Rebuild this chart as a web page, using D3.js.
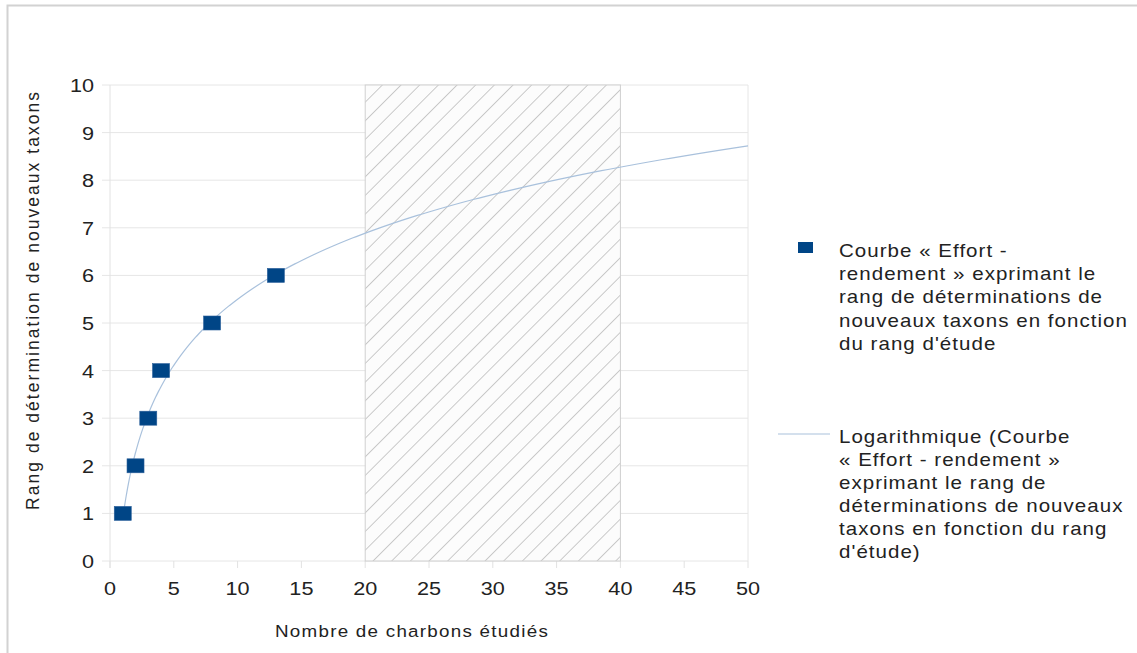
<!DOCTYPE html>
<html><head><meta charset="utf-8">
<script src="https://cdn.jsdelivr.net/npm/d3@7"></script>
<style>
html,body{margin:0;padding:0;background:#fff;}
svg{display:block;font-family:"Liberation Sans",Arial,sans-serif;}
</style></head>
<body>
<svg id="chart" width="1137" height="653"></svg>
<script>
// ---- data ----
const studyCounts = [1, 2, 3, 4, 8, 13];      // Nombre de charbons étudiés
const taxonRanks  = [1, 2, 3, 4, 5, 6];       // Rang de détermination
const xTickValues = [0, 5, 10, 15, 20, 25, 30, 35, 40, 45, 50];
const yTickValues = [0, 1, 2, 3, 4, 5, 6, 7, 8, 9, 10];
const hatchRange  = [20, 40];
const trendRange  = [1, 50];
const xTitle = "Nombre de charbons étudiés";
const yTitle = "Rang de détermination de nouveaux taxons";
const legend1 = ["Courbe « Effort -", "rendement » exprimant le", "rang de déterminations de", "nouveaux taxons en fonction", "du rang d'étude"];
const legend2 = ["Logarithmique (Courbe", "« Effort - rendement »", "exprimant le rang de", "déterminations de nouveaux", "taxons en fonction du rang", "d'étude)"];

// ---- layout ----
const svg = d3.select("#chart");
const x = d3.scaleLinear().domain([0, 50]).range([110, 748]);
const y = d3.scaleLinear().domain([0, 10]).range([561, 85]);
const SX = 1.14;

// frame
svg.append("path").attr("d", "M7.5,660 V5.5 H1145").attr("fill", "none").attr("stroke", "#d2d2d2").attr("stroke-width", 2);

// hatch pattern
const defs = svg.append("defs");
const pat = defs.append("pattern").attr("id", "hatch").attr("patternUnits", "userSpaceOnUse")
  .attr("width", 13.2).attr("height", 13.2).attr("patternTransform", "rotate(45)");
pat.append("rect").attr("width", 13.2).attr("height", 13.2).attr("fill", "#fcfcfc");
pat.append("line").attr("x1", 0).attr("y1", 0).attr("x2", 0).attr("y2", 13.2).attr("stroke", "#a9a9a9").attr("stroke-width", 1.2);

// gridlines + ticks
const gy = svg.append("g");
yTickValues.forEach(v => {
  gy.append("line").attr("x1", 102).attr("x2", x(50)).attr("y1", y(v)).attr("y2", y(v))
    .attr("stroke", "#e6e6e6").attr("stroke-width", 1);
});
xTickValues.forEach(v => {
  gy.append("line").attr("x1", x(v)).attr("x2", x(v)).attr("y1", y(0)).attr("y2", y(0) + 7)
    .attr("stroke", "#e2e2e2").attr("stroke-width", 1);
});
// axis + right border
gy.append("line").attr("x1", x(0)).attr("x2", x(0)).attr("y1", y(10)).attr("y2", y(0) + 7).attr("stroke", "#e2e2e2");
gy.append("line").attr("x1", x(50)).attr("x2", x(50)).attr("y1", y(10)).attr("y2", y(0)).attr("stroke", "#e6e6e6");

// hatched region
svg.append("rect").attr("x", x(hatchRange[0])).attr("y", y(10))
  .attr("width", x(hatchRange[1]) - x(hatchRange[0])).attr("height", y(0) - y(10))
  .attr("fill", "url(#hatch)").attr("stroke", "#cfcfcf").attr("stroke-width", 1);

// logarithmic trend fit (least squares on ln x)
const lx = studyCounts.map(Math.log);
const mx = d3.mean(lx), my = d3.mean(taxonRanks);
const a = d3.sum(lx, (v, i) => (v - mx) * (taxonRanks[i] - my)) / d3.sum(lx, v => (v - mx) ** 2);
const b = my - a * mx;
const trendPts = d3.range(0, 301).map(i => {
  const xv = trendRange[0] * Math.pow(trendRange[1] / trendRange[0], i / 300);
  return [xv, a * Math.log(xv) + b];
});
svg.append("path").datum(trendPts)
  .attr("d", d3.line().x(d => x(d[0])).y(d => y(d[1])))
  .attr("fill", "none").attr("stroke", "#a9c1dc").attr("stroke-width", 1.2);

// markers
svg.append("g").selectAll("rect").data(studyCounts).join("rect")
  .attr("x", d => x(d) - 8.5).attr("y", (d, i) => y(taxonRanks[i]) - 7)
  .attr("width", 17).attr("height", 14).attr("fill", "#004586").attr("stroke", "#2a5f9a").attr("stroke-width", 0.6);

// text helper
function txt(px, py, s, size, anchor, color) {
  return svg.append("text").attr("transform", `translate(${px},${py}) scale(${SX},1)`)
    .attr("font-size", size).attr("text-anchor", anchor || "start").attr("fill", color || "#222").text(s);
}

// tick labels
yTickValues.forEach(v => txt(94, y(v) + 7, String(v), 19, "end"));
xTickValues.forEach(v => txt(x(v), 595, String(v), 19, "middle"));

// axis titles
txt(412, 637, xTitle, 16.5, "middle").attr("letter-spacing", 1.1);
svg.append("text").attr("transform", "translate(39,301) rotate(-90)")
  .attr("font-size", 17.5).attr("text-anchor", "middle").attr("fill", "#222")
  .attr("textLength", 418).attr("lengthAdjust", "spacing").text(yTitle);

// legend
svg.append("rect").attr("x", 798).attr("y", 242).attr("width", 15).attr("height", 11).attr("fill", "#004586");
legend1.forEach((s, i) => txt(839, 257 + i * 23.2, s, 18, "start").attr("letter-spacing", 0.9));
svg.append("line").attr("x1", 778).attr("x2", 830).attr("y1", 434).attr("y2", 434).attr("stroke", "#a9c1dc").attr("stroke-width", 1.2);
legend2.forEach((s, i) => txt(839, 443 + i * 23, s, 18, "start").attr("letter-spacing", 0.9));
</script>
</body></html>
